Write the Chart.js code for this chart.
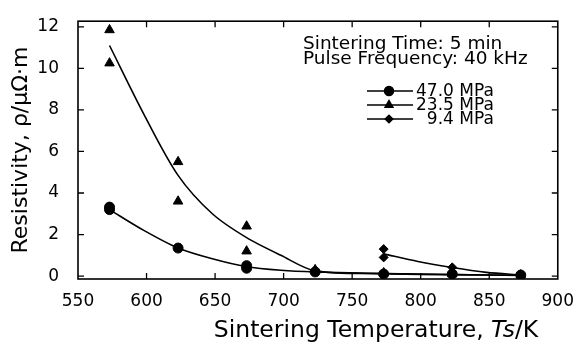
<!DOCTYPE html>
<html>
<head>
<meta charset="utf-8">
<script src="https://cdn.jsdelivr.net/npm/chart.js@4.4.0/dist/chart.umd.min.js"></script>
<style>
  html, body { margin: 0; padding: 0; background: #fff; }
  #wrap { width: 578px; height: 345px; }
</style>
</head>
<body>
<div id="wrap"><canvas id="chart" width="578" height="345"></canvas></div>
<script>
// Valeurs (T en K, résistivité en µΩ·m)
const xTicks = [550, 600, 650, 700, 750, 800, 850, 900];
const yTicks = [0, 2, 4, 6, 8, 10, 12];

// 47.0 MPa : mesures
const temps47 = [573, 573, 623, 673, 673, 723, 773, 823, 873];
const res47 = [3.32, 3.2, 1.35, 0.5, 0.38, 0.2, 0.1, 0.1, 0.05];
// 23.5 MPa : mesures
const temps235 = [573, 573, 623, 623, 673, 673, 723, 773, 823, 873];
const res235 = [11.85, 10.25, 5.5, 3.6, 2.4, 1.2, 0.3, 0.15, 0.1, 0.05];
// 9.4 MPa : mesures
const temps94 = [773, 773, 823, 873];
const res94 = [1.3, 0.9, 0.42, 0.05];

// courbes lissées tracées sur la figure
const fitT47 = [573, 598, 623, 648, 673, 698, 723, 773, 823, 873];
const fit47 = [3.2, 2.2, 1.35, 0.83, 0.45, 0.28, 0.2, 0.12, 0.07, 0.03];
const fitT235 = [573, 598, 623, 648, 673, 698, 723, 773, 823, 873];
const fit235 = [11.1, 7.8, 4.85, 3.0, 1.85, 1.0, 0.25, 0.12, 0.07, 0.04];
const fitT94 = [773, 798, 823, 848, 873];
const fit94 = [1.07, 0.7, 0.41, 0.18, 0.05];

const labels = ["47.0 MPa", "23.5 MPa", "9.4 MPa"];
const styles = ["circle", "triangle", "rectRot"];
const FONT = "'DejaVu Sans', 'Liberation Sans', sans-serif";

function pts(xs, ys) {
    return xs.map((x, i) => ({ x: x, y: ys[i] }));
}

function curve(xs, ys) {
    return {
        type: "line",
        data: pts(xs, ys),
        borderColor: "#000",
        borderWidth: 1.6,
        pointRadius: 0,
        fill: false,
        tension: 0.3
    };
}

function marks(xs, ys, style, r) {
    return {
        type: "scatter",
        data: pts(xs, ys),
        pointStyle: style,
        pointRadius: r,
        backgroundColor: "#000",
        borderColor: "#000",
        borderWidth: 1,
        showLine: false
    };
}

// Cadre, graduations intérieures, textes et légende
const decor = {
    id: "decor",
    afterDraw(chart) {
        const ctx = chart.ctx;
        const a = chart.chartArea;
        const sx = chart.scales.x, sy = chart.scales.y;
        ctx.save();
        ctx.strokeStyle = "#000";
        ctx.lineWidth = 1.6;
        ctx.strokeRect(a.left, a.top, a.right - a.left, a.bottom - a.top);
        ctx.lineWidth = 1.3;
        ctx.beginPath();
        xTicks.forEach(v => {
            const p = sx.getPixelForValue(v);
            if (p <= a.left + 1 || p >= a.right - 1) return;
            ctx.moveTo(p, a.bottom); ctx.lineTo(p, a.bottom - 6);
            ctx.moveTo(p, a.top); ctx.lineTo(p, a.top + 6);
        });
        yTicks.forEach(v => {
            const p = sy.getPixelForValue(v);
            ctx.moveTo(a.left, p); ctx.lineTo(a.left + 6, p);
            ctx.moveTo(a.right, p); ctx.lineTo(a.right - 6, p);
        });
        ctx.stroke();

        ctx.fillStyle = "#000";
        ctx.textBaseline = "alphabetic";
        ctx.textAlign = "left";

        // titre axe x, avec Ts en italique
        const parts = [["Sintering Temperature, ", "23.5px"], ["Ts", "italic 23.5px"], ["/K", "23.5px"]];
        let w = 0;
        parts.forEach(p => { ctx.font = p[1] + " " + FONT; w += ctx.measureText(p[0]).width; });
        let x = 376 - w / 2;
        parts.forEach(p => {
            ctx.font = p[1] + " " + FONT;
            ctx.fillText(p[0], x, 337);
            x += ctx.measureText(p[0]).width;
        });

        // titre axe y
        ctx.save();
        ctx.translate(27, 150);
        ctx.rotate(-Math.PI / 2);
        ctx.textAlign = "center";
        ctx.font = "22px " + FONT;
        ctx.fillText("Resistivity, \u03c1/\u03bc\u03a9\u00b7m", 0, 0);
        ctx.restore();

        // conditions
        ctx.font = "18.5px " + FONT;
        ctx.fillText("Sintering Time: 5 min", 303, 49);
        ctx.fillText("Pulse Frequency: 40 kHz", 303, 64);

        // légende
        const rowsY = [91, 105, 119];
        const radii = [4.5, 4.5, 3.8];
        ctx.font = "17px " + FONT;
        ctx.textAlign = "right";
        ctx.textBaseline = "middle";
        const textEnd = 416 + ctx.measureText(labels[0]).width;
        labels.forEach((lab, i) => {
            const y = rowsY[i];
            ctx.lineWidth = 1.5;
            ctx.beginPath();
            ctx.moveTo(367, y); ctx.lineTo(413, y);
            ctx.stroke();
            Chart.helpers.drawPoint(ctx, { pointStyle: styles[i], radius: radii[i], rotation: 0, borderWidth: 1 }, 389, y);
            ctx.fillText(lab, textEnd, y + 1);
        });
        ctx.restore();
    }
};

new Chart(document.getElementById("chart"), {
    data: {
        datasets: [
            curve(fitT47, fit47),
            curve(fitT235, fit235),
            curve(fitT94, fit94),
            marks(temps47, res47, styles[0], 5),
            marks(temps235, res235, styles[1], 5.5),
            marks(temps94, res94, styles[2], 4.5)
        ]
    },
    options: {
        responsive: false,
        animation: false,
        layout: { padding: { top: 15, right: 20, left: 0, bottom: 0 } },
        plugins: { legend: { display: false }, tooltip: { enabled: false } },
        scales: {
            x: {
                type: "linear",
                min: 550,
                max: 900,
                afterBuildTicks: s => { s.ticks = xTicks.map(v => ({ value: v })); },
                afterFit: s => { s.height = 66; },
                grid: { display: false },
                border: { display: false },
                ticks: { color: "#000", font: { family: FONT, size: 17 }, padding: 4, maxRotation: 0 }
            },
            y: {
                type: "linear",
                min: -0.14,
                max: 12.27,
                afterBuildTicks: s => { s.ticks = yTicks.map(v => ({ value: v })); },
                afterFit: s => { s.width = 78; },
                grid: { display: false },
                border: { display: false },
                ticks: { color: "#000", font: { family: FONT, size: 17 }, padding: 11 }
            }
        }
    },
    plugins: [decor]
});
</script>
</body>
</html>
